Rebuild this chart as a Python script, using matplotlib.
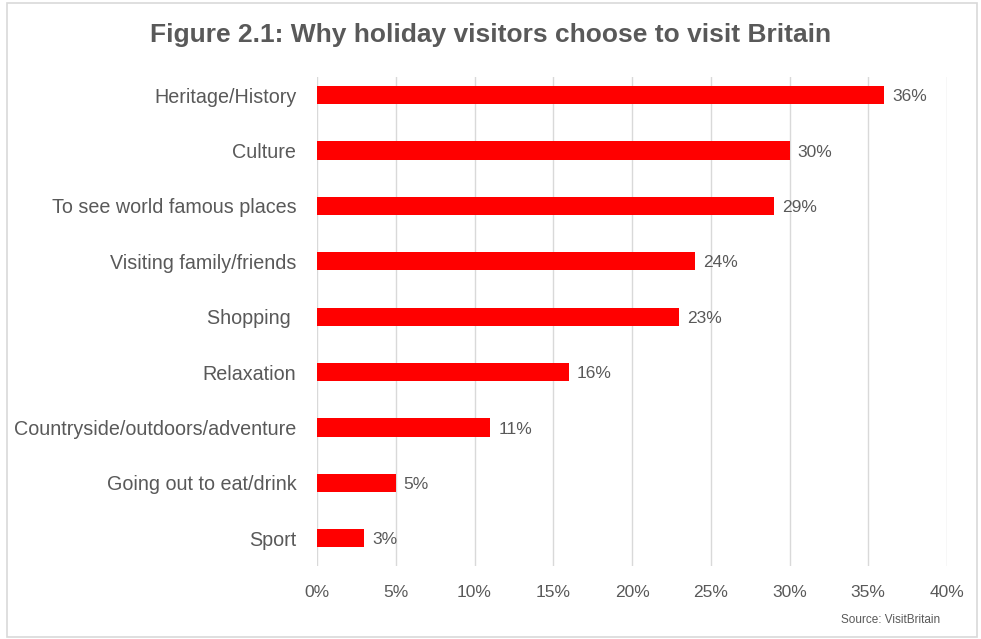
import matplotlib
matplotlib.use('Agg')
import matplotlib.pyplot as plt
from matplotlib.patches import Rectangle

# reasons for visiting, top to bottom
reasons = ['Heritage/History', 'Culture', 'To see world famous places',
           'Visiting family/friends', 'Shopping ', 'Relaxation',
           'Countryside/outdoors/adventure', 'Going out to eat/drink', 'Sport']
shares = [36, 30, 29, 24, 23, 16, 11, 5, 3]
xticks = [0, 5, 10, 15, 20, 25, 30, 35, 40]

plt.rcParams['font.family'] = ['Liberation Sans', 'DejaVu Sans']

grey = '#595959'
fig = plt.figure(figsize=(9.81, 6.39), dpi=100)
# thin frame round the whole chart
fig.patches.append(Rectangle((7 / 981, 2 / 639), 970 / 981, 634 / 639,
                             transform=fig.transFigure, fill=False,
                             edgecolor='#d9d9d9', linewidth=1.2))

ax = fig.add_axes([317 / 981, 1 - 566 / 639, 630 / 981, 489 / 639])
ypos = range(len(reasons))
ax.barh(ypos, shares, height=0.33, color='#ff0000')
for y, v in zip(ypos, shares):
    ax.text(v + 0.5, y + 0.03, f'{v}%', va='center', ha='left', fontsize=12.5, color=grey)

ax.set_xlim(0, 40)
ax.set_ylim(8.5, -0.325)
ax.set_xticks(xticks)
ax.set_xticklabels([f'{t}%' for t in xticks], fontsize=12.5, color=grey)
ax.set_yticks(list(ypos))
ax.set_yticklabels(reasons, fontsize=14.2, color=grey)
ax.tick_params(length=0)
ax.tick_params(axis='x', pad=14)
ax.tick_params(axis='y', pad=15)
ax.grid(axis='x', color='#d9d9d9', linewidth=1)
ax.set_axisbelow(True)
for s in ax.spines.values():
    s.set_visible(False)

fig.text(0.5, 1 - 35 / 639, 'Figure 2.1: Why holiday visitors choose to visit Britain',
         ha='center', va='center', fontsize=19, fontweight='bold', color=grey)
fig.text(940 / 981, 1 - 620 / 639, 'Source: VisitBritain', ha='right', va='center',
         fontsize=8.5, color=grey)

fig.savefig('out.png', dpi=100)
